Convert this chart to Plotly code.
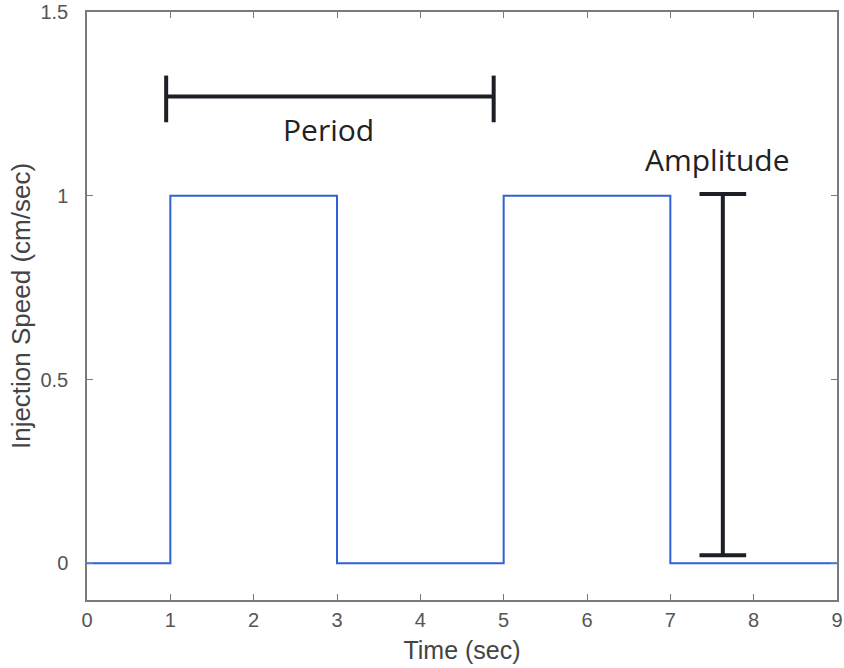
import plotly.graph_objects as go

# Square-wave injection speed (step changes)
time_pts = [0, 1, 1, 3, 3, 5, 5, 7, 7, 9]
speed_pts = [0, 0, 1, 1, 0, 0, 1, 1, 0, 0]

x_ticks = [0, 1, 2, 3, 4, 5, 6, 7, 8, 9]
y_ticks = [0, 0.5, 1, 1.5]
y_tick_text = ["0", "0.5", "1", "1.5"]

# Period marker (data coords)
period_x = [0.95, 4.88]
period_y = 1.27
period_cap = [1.2, 1.327]
period_label_pos = [2.9, 1.18]

# Amplitude marker (data coords)
amp_x = 7.63
amp_y = [0.022, 1.005]
amp_cap = [7.35, 7.91]
amp_label_pos = [7.57, 1.1]

fig = go.Figure()
fig.add_trace(go.Scatter(x=time_pts, y=speed_pts, mode="lines",
                         line=dict(color="#2f62d6", width=2), showlegend=False,
                         hoverinfo="skip"))

mk = dict(color="#1c1f26", width=4)
shapes = [
    dict(type="line", xref="x", yref="y", x0=period_x[0], x1=period_x[1], y0=period_y, y1=period_y, line=mk),
    dict(type="line", xref="x", yref="y", x0=period_x[0], x1=period_x[0], y0=period_cap[0], y1=period_cap[1], line=mk),
    dict(type="line", xref="x", yref="y", x0=period_x[1], x1=period_x[1], y0=period_cap[0], y1=period_cap[1], line=mk),
    dict(type="line", xref="x", yref="y", x0=amp_x, x1=amp_x, y0=amp_y[0], y1=amp_y[1], line=mk),
    dict(type="line", xref="x", yref="y", x0=amp_cap[0], x1=amp_cap[1], y0=amp_y[0], y1=amp_y[0], line=mk),
    dict(type="line", xref="x", yref="y", x0=amp_cap[0], x1=amp_cap[1], y0=amp_y[1], y1=amp_y[1], line=mk),
]

label_font = dict(family="Open Sans, Lato, sans-serif", size=30, color="#222222")
annotations = [
    dict(x=period_label_pos[0], y=period_label_pos[1], xref="x", yref="y", text="Period",
         showarrow=False, font=label_font),
    dict(x=amp_label_pos[0], y=amp_label_pos[1], xref="x", yref="y", text="Amplitude",
         showarrow=False, font=label_font),
]

axis_common = dict(showgrid=False, zeroline=False, showline=True, linecolor="#7a7a7a",
                   linewidth=1.5, mirror="ticks", ticks="inside", ticklen=6,
                   tickcolor="#7a7a7a", ticklabeloverflow="allow",
                   tickfont=dict(family="Liberation Sans, Arial, sans-serif", size=20, color="#555555"))

fig.update_layout(
    width=844, height=668,
    margin=dict(l=87, r=1, t=10, b=68),
    plot_bgcolor="white", paper_bgcolor="white",
    shapes=shapes, annotations=annotations,
    xaxis=dict(range=[0, 9], tickvals=x_ticks, ticktext=[str(v) for v in x_ticks],
               ticklabelstandoff=1,
               title=dict(text="Time (sec)", standoff=12,
                          font=dict(family="Liberation Sans, Arial, sans-serif", size=25, color="#444444")),
               **axis_common),
    yaxis=dict(range=[-0.1, 1.5], tickvals=y_ticks, ticktext=y_tick_text,
               ticklabelstandoff=13,
               title=dict(text="Injection Speed (cm/sec)", standoff=2,
                          font=dict(family="Liberation Sans, Arial, sans-serif", size=26, color="#444444")),
               **axis_common),
)

fig.write_html(
    "out.html",
    config={"displayModeBar": False},
    post_script=("document.documentElement.style.overflow='hidden';"
                 "document.body.style.margin='0';"
                 "document.body.style.overflow='hidden';"),
)
